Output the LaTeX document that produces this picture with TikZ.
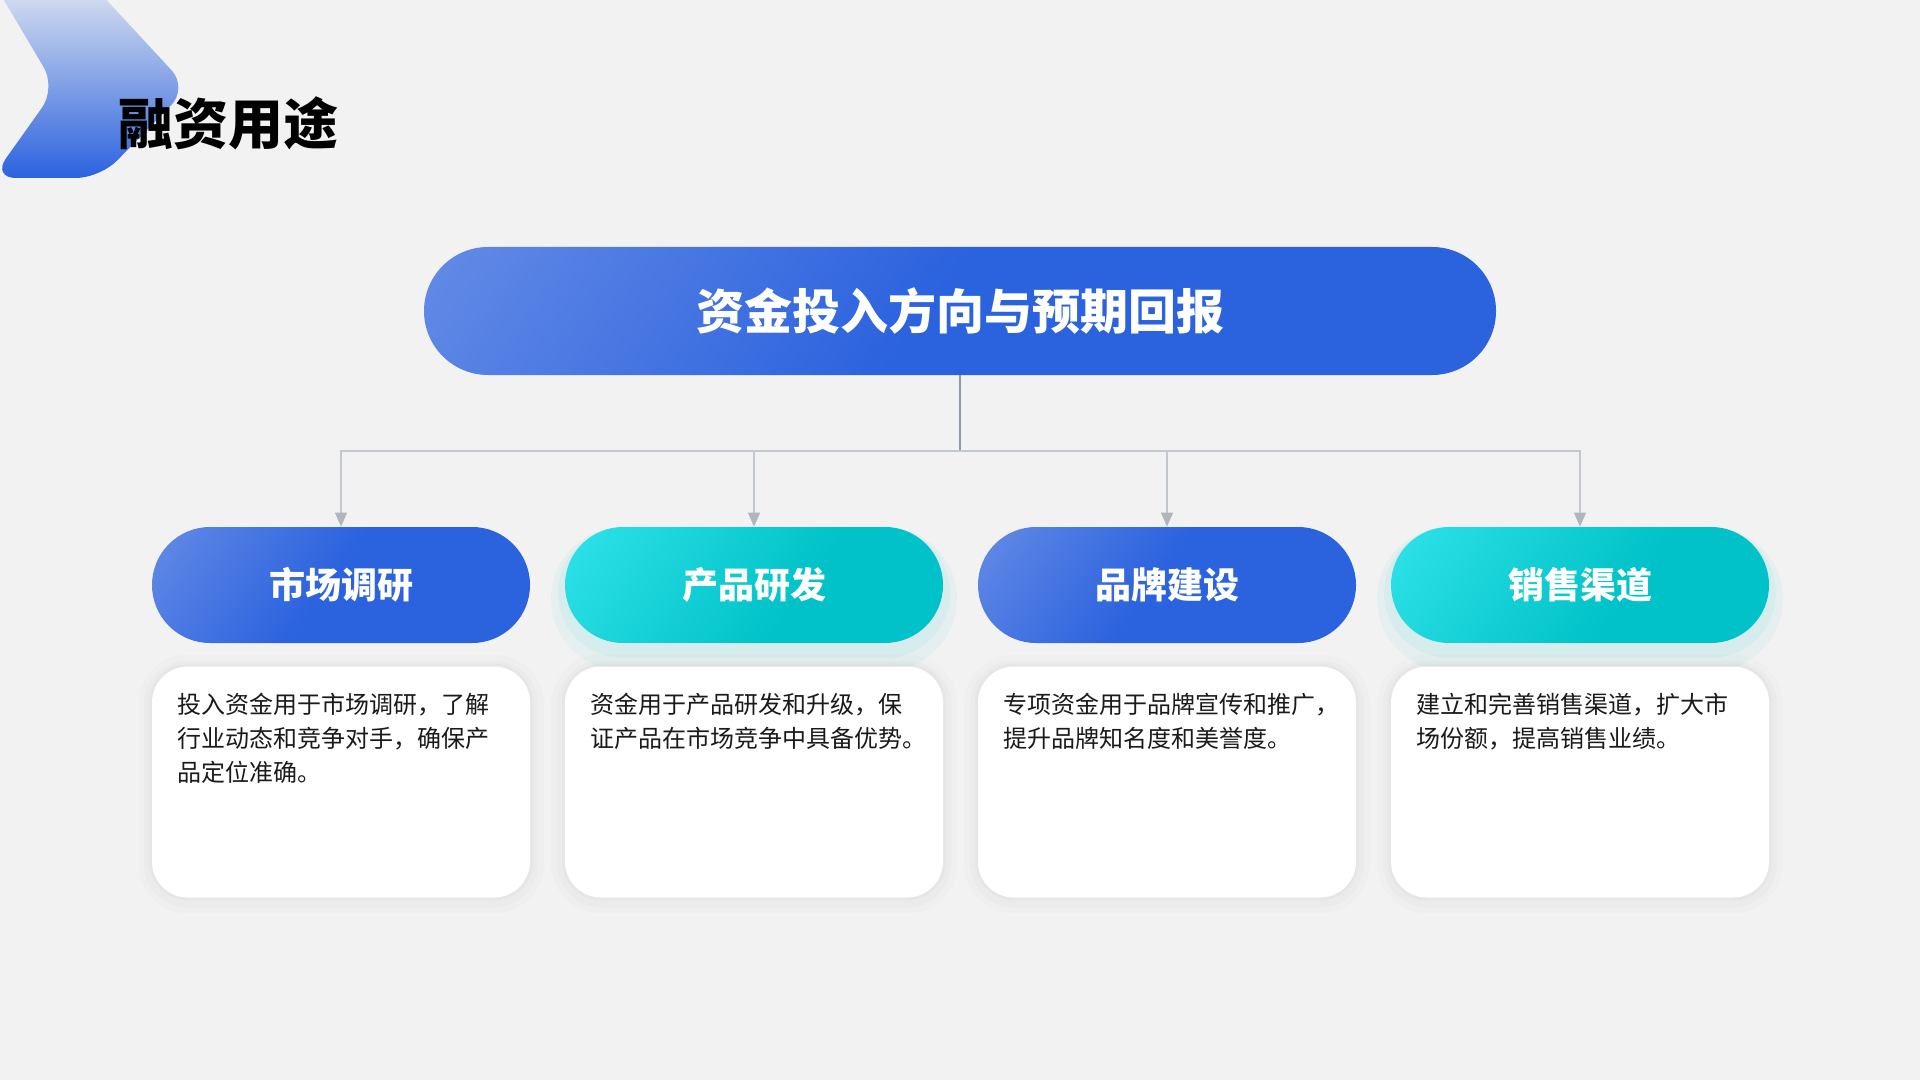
\documentclass[tikz,border=0pt]{standalone}
\usepackage{fontspec}
\setmainfont{Noto Sans CJK SC}
\usetikzlibrary{arrows.meta}
\definecolor{bgcol}{HTML}{F2F2F2}
\definecolor{blueD}{HTML}{2B62DE}
\definecolor{blueL}{HTML}{7E9EEA}
\definecolor{cyanD}{HTML}{00C2C8}
\definecolor{cyanL}{HTML}{40EEF4}
\definecolor{trunkgray}{HTML}{8C9AA8}
\definecolor{branchgray}{HTML}{C3C7CE}
\definecolor{tipgray}{HTML}{B0B5BE}
\definecolor{textdark}{HTML}{1A1A1A}
\newcommand{\WHT}[1]{{\color{white}#1}}
\pgfdeclareverticalshading{blueshade}{100bp}{color(0bp)=(blueD); color(52bp)=(blueD); color(100bp)=(blueL)}
\pgfdeclareverticalshading{cyanshade}{100bp}{color(0bp)=(cyanD); color(42bp)=(cyanD); color(100bp)=(cyanL)}

\begin{document}
\begin{tikzpicture}[x=0.5pt,y=-0.5pt,
    pill/.style={rounded corners=29pt,minimum width=189pt,minimum height=58pt,
      font=\fontsize{18}{20}\selectfont\bfseries},
    bluepill/.style={pill,shading=blueshade,shading angle=55},
    cyanpill/.style={pill,shading=cyanshade,shading angle=55,
      preaction={draw=cyanD,draw opacity=0.05,line width=14pt,transform canvas={yshift=-7pt}},
      preaction={draw=cyanD,draw opacity=0.06,line width=7pt,transform canvas={yshift=-4pt}}},
    card/.style={rounded corners=18pt,minimum width=189pt,minimum height=115.5pt,fill=white,
      preaction={draw=black,draw opacity=0.012,line width=14pt,transform canvas={yshift=-1pt}},
      preaction={draw=black,draw opacity=0.015,line width=8pt,transform canvas={yshift=-1pt}},
      preaction={draw=black,draw opacity=0.02,line width=3pt}},
    cardtext/.style={anchor=north west,align=left,inner sep=0pt,text=textdark,
      font=\fontsize{12}{17}\selectfont},
    trunk/.style={draw=trunkgray,line width=0.6pt},
    branch/.style={draw=branchgray,line width=0.6pt,-{Triangle[width=6pt,length=7pt,fill=tipgray,color=tipgray]}}]
    \useasboundingbox (0,0) rectangle (1920,1080);
    \fill[bgcol] (0,0) rectangle (1920,1080);
    % corner chevron
    \shade[top color=bgcol!85!blueL,bottom color=blueD,rounded corners=12pt]
      (-8,-20) -- (88,-20) -- (188,88) -- (100,178) -- (-8,178) -- (56,88) -- cycle;
    \node (heading) at (118,123) [anchor=west,inner sep=0pt] {\fontsize{27.5}{30}\selectfont\bfseries 融资用途};
    % top banner
    \node (banner) at (960,311) [rounded corners=32pt,minimum width=536pt,minimum height=64pt,
      shading=blueshade,shading angle=55]
      {\fontsize{24}{26}\selectfont\bfseries\WHT{资金投入方向与预期回报}};
    % categories
    \node (market) at (341,585) [bluepill] {\WHT{市场调研}};
    \node (product) at (754,585) [cyanpill] {\WHT{产品研发}};
    \node (brand) at (1167,585) [bluepill] {\WHT{品牌建设}};
    \node (sales) at (1580,585) [cyanpill] {\WHT{销售渠道}};
    % cards
    \node (marketcard) at (341,782) [card] {};
    \node (productcard) at (754,782) [card] {};
    \node (brandcard) at (1167,782) [card] {};
    \node (salescard) at (1580,782) [card] {};
    \node (markettext) at (177,693) [cardtext] {投入资金用于市场调研，了解\\行业动态和竞争对手，确保产\\品定位准确。};
    \node (producttext) at (590,693) [cardtext] {资金用于产品研发和升级，保\\证产品在市场竞争中具备优势。};
    \node (brandtext) at (1003,693) [cardtext] {专项资金用于品牌宣传和推广，\\提升品牌知名度和美誉度。};
    \node (salestext) at (1416,693) [cardtext] {建立和完善销售渠道，扩大市\\场份额，提高销售业绩。};
    % connectors
    \coordinate (hub) at (960,451);
    \draw[trunk] (banner.south) -- (hub);
    \draw[branch] (hub) -| (market.north);
    \draw[branch] (hub) -| (product.north);
    \draw[branch] (hub) -| (brand.north);
    \draw[branch] (hub) -| (sales.north);
\end{tikzpicture}
\end{document}
